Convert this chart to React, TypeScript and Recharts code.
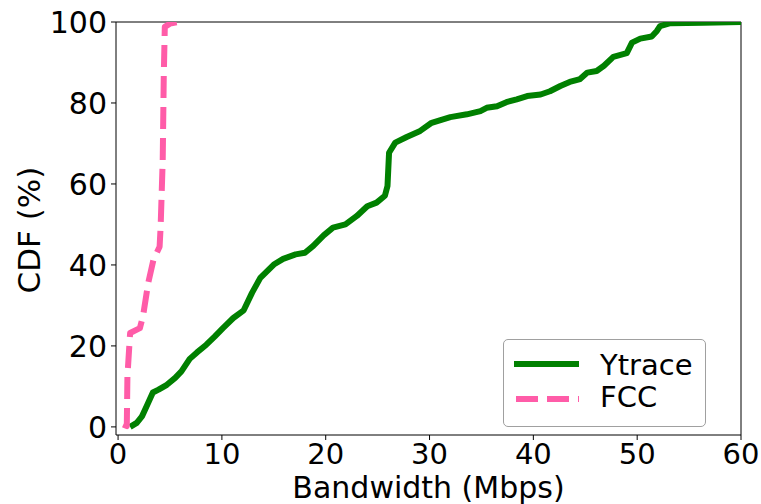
import { LineChart, Line, XAxis, YAxis, Legend, ReferenceLine } from 'recharts';

const ytraceBandwidth = [1.16, 1.8, 2.3, 2.75, 3.35, 3.9, 4.7, 5.5, 6.1, 6.9, 7.6, 8.5, 9.3, 10.1, 11.1, 12.1, 12.9, 13.7, 15.0, 15.9, 17.1, 18.0, 18.8, 19.8, 20.7, 21.9, 23.0, 24.0, 24.9, 25.7, 25.95, 26.1, 26.7, 27.8, 29.1, 30.2, 32.0, 33.6, 34.9, 35.5, 36.5, 37.4, 38.4, 39.4, 40.7, 41.6, 42.6, 43.5, 44.5, 45.2, 46.1, 46.8, 47.7, 49.0, 49.5, 50.3, 51.4, 51.9, 52.2, 53.2, 56.4, 60];
const ytraceCdf = [0, 1, 2.6, 5.1, 8.5, 9.2, 10.4, 12.1, 13.7, 16.8, 18.4, 20.3, 22.3, 24.4, 26.9, 28.8, 33.1, 36.8, 40.1, 41.5, 42.6, 43.0, 44.7, 47.3, 49.2, 50.0, 52.1, 54.5, 55.4, 57.1, 59.5, 67.7, 70.2, 71.6, 73.1, 75.1, 76.5, 77.2, 78.0, 78.8, 79.2, 80.2, 80.9, 81.7, 82.1, 82.9, 84.2, 85.2, 85.9, 87.5, 87.9, 89.2, 91.4, 92.3, 94.9, 95.9, 96.4, 97.8, 99.0, 99.7, 99.8, 100];

const fccBandwidth = [0.5, 0.84, 0.9, 1.16, 2.1, 2.4, 2.9, 3.4, 4.0, 4.1, 4.3, 4.4, 4.5, 5.0, 5.8];
const fccCdf = [0.6, 0.2, 12.5, 23.2, 24.4, 27.3, 35.5, 41.2, 44.5, 49.5, 65.9, 86.4, 98.8, 99.6, 100];

const xTicks = [0, 10, 20, 30, 40, 50, 60];
const yTicks = [0, 20, 40, 60, 80, 100];

const ytraceData = ytraceBandwidth.map((x, i) => ({ x, cdf: ytraceCdf[i] }));
const fccData = fccBandwidth.map((x, i) => ({ x, cdf: fccCdf[i] }));

const FONT = '"DejaVu Sans", sans-serif';
const GREEN = '#008000';
const PINK = '#ff5ca8';

const renderLegend = () => (
  <div
    style={{
      width: 201,
      height: 86,
      border: '1px solid #a0a0a0',
      borderRadius: 5,
      background: '#fff',
      position: 'relative',
    }}
  >
    <svg width={201} height={86} style={{ position: 'absolute', left: 0, top: 0 }}>
      <line x1={10} x2={75} y1={24} y2={24} stroke={GREEN} strokeWidth={6} />
      <line x1={12} x2={75} y1={59} y2={59} stroke={PINK} strokeWidth={6} strokeDasharray="22 9" />
      <text x={96} y={35} fontFamily={FONT} fontSize={29} fill="#000">Ytrace</text>
      <text x={96} y={67} fontFamily={FONT} fontSize={29} fill="#000">FCC</text>
    </svg>
  </div>
);

const YLabel = () => (
  <text
    x={40}
    y={230}
    transform="rotate(-90, 40, 230)"
    textAnchor="middle"
    fontFamily={FONT}
    fontSize={31}
    fill="#000"
  >
    CDF (%)
  </text>
);

export default function App() {
  return (
    <div style={{ position: 'absolute', left: 0, top: 0, background: '#fff' }}>
      <LineChart width={761} height={504} margin={{ top: 22, right: 20, left: 0, bottom: 0 }}>
        <XAxis
          dataKey="x"
          type="number"
          domain={[-0.2, 60]}
          ticks={xTicks}
          allowDataOverflow
          height={69}
          tickSize={5}
          tickMargin={3}
          stroke="#000"
          tick={{ fill: '#000', fontSize: 29, fontFamily: FONT }}
          axisLine={{ stroke: '#000' }}
          tickLine={{ stroke: '#000' }}
          label={{ value: 'Bandwidth (Mbps)', position: 'insideBottom', offset: 6, fill: '#000', fontSize: 30, fontFamily: FONT }}
        />
        <YAxis
          type="number"
          domain={[-2, 100]}
          ticks={yTicks}
          allowDataOverflow
          width={116}
          tickSize={5}
          tickMargin={4}
          stroke="#000"
          tick={{ fill: '#000', fontSize: 30, fontFamily: FONT }}
          axisLine={{ stroke: '#000' }}
          tickLine={{ stroke: '#000' }}
          label={<YLabel />}
        />
        <ReferenceLine y={100} stroke="#000" strokeWidth={1} ifOverflow="visible" />
        <ReferenceLine x={60} stroke="#000" strokeWidth={1} ifOverflow="visible" />
        <Line
          data={ytraceData}
          dataKey="cdf"
          name="Ytrace"
          type="linear"
          stroke={GREEN}
          strokeWidth={6}
          strokeLinejoin="round"
          dot={false}
          isAnimationActive={false}
        />
        <Line
          data={fccData}
          dataKey="cdf"
          name="FCC"
          type="linear"
          stroke={PINK}
          strokeWidth={6}
          strokeDasharray="22 9"
          strokeLinejoin="round"
          dot={false}
          isAnimationActive={false}
        />
        <Legend
          layout="vertical"
          align="center"
          verticalAlign="middle"
          content={renderLegend}
          wrapperStyle={{ left: 503, top: 339, width: 203, height: 88 }}
        />
      </LineChart>
    </div>
  );
}
